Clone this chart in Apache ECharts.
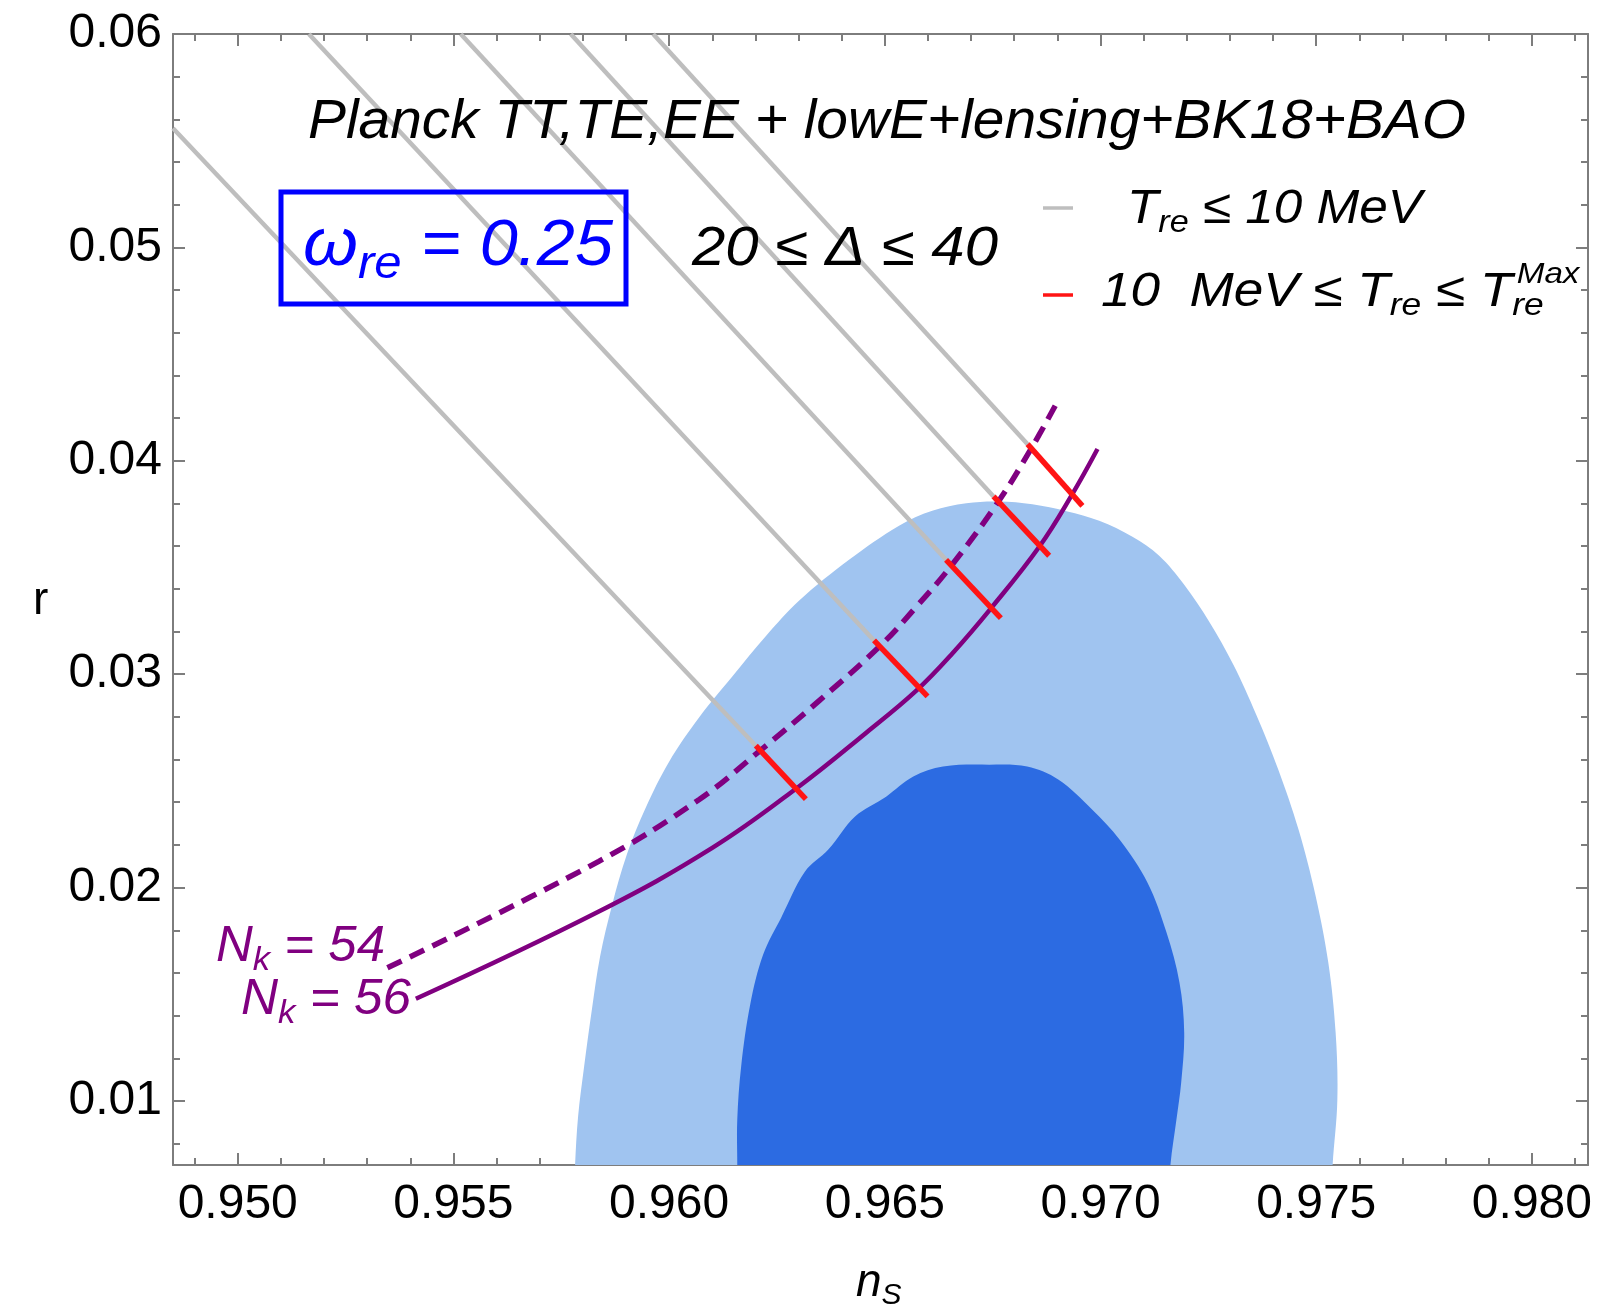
<!DOCTYPE html>
<html>
<head>
<meta charset="utf-8">
<script src="https://cdn.jsdelivr.net/npm/echarts@6/dist/echarts.min.js"></script>
<style>
  html, body { margin: 0; padding: 0; background: #ffffff; }
  #chart { width: 1599px; height: 1310px; }
</style>
</head>
<body>
<div id="chart"></div>
<script>
const FONT = '"Liberation Sans", Arial, Helvetica, sans-serif';

// ---- axes ----
const nsRange = [0.9485, 0.9813];
const rRange = [0.007, 0.06];
const nsMajor = [0.950, 0.955, 0.960, 0.965, 0.970, 0.975, 0.980];
const nsMinor = [0.949, 0.951, 0.952, 0.953, 0.954, 0.956, 0.957, 0.958, 0.959,
                 0.961, 0.962, 0.963, 0.964, 0.966, 0.967, 0.968, 0.969,
                 0.971, 0.972, 0.973, 0.974, 0.976, 0.977, 0.978, 0.979, 0.981];
const rMajor = [0.01, 0.02, 0.03, 0.04, 0.05, 0.06];
const rMinor = [0.008, 0.012, 0.014, 0.016, 0.018, 0.022, 0.024, 0.026, 0.028,
                0.032, 0.034, 0.036, 0.038, 0.042, 0.044, 0.046, 0.048,
                0.052, 0.054, 0.056, 0.058];

// ---- Planck TT,TE,EE + lowE + lensing + BK18 + BAO contours (outer and inner) ----
const outerNs = [0.95777, 0.95782, 0.95789, 0.95803, 0.95821, 0.95840, 0.95868, 0.95902,
                 0.95946, 0.96000, 0.96069, 0.96146, 0.96225, 0.96301, 0.96417, 0.96533,
                 0.96610, 0.96689, 0.96765, 0.96842, 0.96921, 0.96997, 0.97074, 0.97136,
                 0.97194, 0.97252, 0.97308, 0.97361, 0.97412, 0.97459, 0.97498, 0.97528,
                 0.97545, 0.97549, 0.97538, 0.97531];
const outerR  = [0.00398, 0.00698, 0.00927, 0.01162, 0.01429, 0.01677, 0.01920, 0.02155,
                 0.02375, 0.02590, 0.02796, 0.02988, 0.03180, 0.03344, 0.03536, 0.03696,
                 0.03766, 0.03801, 0.03809, 0.03796, 0.03764, 0.03719, 0.03644, 0.03555,
                 0.03419, 0.03246, 0.03044, 0.02810, 0.02553, 0.02272, 0.01967, 0.01649,
                 0.01321, 0.01007, 0.00698, 0.00398];
const innerNs = [0.96158, 0.96158, 0.96158, 0.96167, 0.96188, 0.96218, 0.96260, 0.96315,
                 0.96369, 0.96431, 0.96503, 0.96566, 0.96635, 0.96742, 0.96830, 0.96902,
                 0.96981, 0.97044, 0.97109, 0.97153, 0.97183, 0.97194, 0.97187, 0.97176,
                 0.97162, 0.97153];
const innerR  = [0.00398, 0.00698, 0.00913, 0.01162, 0.01452, 0.01686, 0.01860, 0.02075,
                 0.02178, 0.02333, 0.02426, 0.02520, 0.02567, 0.02576, 0.02567, 0.02506,
                 0.02365, 0.02225, 0.02023, 0.01789, 0.01555, 0.01321, 0.01087, 0.00913,
                 0.00698, 0.00398];

// ---- N_k = 54 (dashed) and N_k = 56 (solid) ----
const nk54Ns = [0.95347, 0.95837, 0.96069, 0.96211, 0.96348, 0.96492, 0.96573, 0.96654,
                0.96763, 0.96839, 0.96895];
const nk54R  = [0.01624, 0.02123, 0.02412, 0.02642, 0.02876, 0.03138, 0.03316, 0.03508,
                0.03808, 0.04056, 0.04258];
const nk56Ns = [0.95413, 0.95837, 0.96100, 0.96301, 0.96457, 0.96573, 0.96656, 0.96747,
                0.96858, 0.96935, 0.96993];
const nk56R  = [0.01479, 0.01888, 0.02186, 0.02474, 0.02726, 0.02923, 0.03096, 0.03311,
                0.03597, 0.03845, 0.04055];

// ---- reheating tracks, one per Delta: T_re <= 10 MeV (gray), then up to T_re^Max (red) ----
const trackStartNs = [0.9485, 0.95165, 0.95517, 0.95772, 0.95963];
const trackStartR  = [0.05558, 0.06, 0.06, 0.06, 0.06];
const tenMeVNs     = [0.96201, 0.96475, 0.96642, 0.96752, 0.96831];
const tenMeVR      = [0.02665, 0.03158, 0.03536, 0.03833, 0.04078];
const tMaxNs       = [0.96317, 0.96599, 0.96769, 0.96881, 0.96958];
const tMaxR        = [0.02415, 0.02896, 0.03263, 0.03555, 0.03789];

const AXIS_GRAY = '#7d7d7d';
const LIGHT_BLUE = '#a0c4f0';
const DARK_BLUE = '#2c6be2';
const PURPLE = '#800080';
const RED = '#ff1414';
const TRACK_GRAY = '#bebebe';

const zip = (xs, ys) => xs.map((x, i) => [x, ys[i]]);

function contourSeries(xs, ys, color, z) {
  return {
    type: 'custom',
    coordinateSystem: 'cartesian2d',
    xAxisIndex: 0, yAxisIndex: 0,
    clip: true,
    silent: true,
    z: z,
    data: zip(xs, ys),
    renderItem: function (params, api) {
      if (params.dataIndex !== 0) return null;
      const pts = xs.map((x, i) => api.coord([x, ys[i]]));
      return {
        type: 'polygon',
        shape: { points: pts, smooth: 0.35 },
        style: { fill: color, stroke: null }
      };
    }
  };
}

function lineSeries(data, color, width, type, z, smooth) {
  return {
    type: 'line',
    xAxisIndex: 0, yAxisIndex: 0,
    data: data,
    symbol: 'none',
    showSymbol: false,
    smooth: smooth || false,
    clip: true,
    silent: true,
    z: z,
    lineStyle: { color: color, width: width, type: type || 'solid', cap: 'butt' }
  };
}

const series = [];
series.push(contourSeries(outerNs, outerR, LIGHT_BLUE, 1));
series.push(contourSeries(innerNs, innerR, DARK_BLUE, 2));
trackStartNs.forEach((x, i) => {
  series.push(lineSeries([[x, trackStartR[i]], [tenMeVNs[i], tenMeVR[i]]], TRACK_GRAY, 4.5, 'solid', 3));
});
series.push(lineSeries(zip(nk54Ns, nk54R), PURPLE, 5.5, [16, 9], 4, 0.4));
series.push(lineSeries(zip(nk56Ns, nk56R), PURPLE, 4.5, 'solid', 4, 0.4));
tenMeVNs.forEach((x, i) => {
  series.push(lineSeries([[x, tenMeVR[i]], [tMaxNs[i], tMaxR[i]]], RED, 5.5, 'solid', 5));
});

// ---- axes: major + minor ticks on all four sides, pointing inward ----
function xAxisDef(position, ticks, len, withLine, withLabels) {
  return {
    type: 'value', gridIndex: 0, position: position,
    min: nsRange[0], max: nsRange[1],
    axisLine: { show: withLine, onZero: false, lineStyle: { color: AXIS_GRAY, width: 2 } },
    axisTick: { show: true, inside: true, length: len, customValues: ticks,
                lineStyle: { color: AXIS_GRAY, width: 2 } },
    axisLabel: withLabels ? {
      show: true, customValues: ticks, formatter: v => v.toFixed(3),
      fontSize: 48, fontFamily: FONT, color: '#000', margin: 16
    } : { show: false },
    splitLine: { show: false }
  };
}
function yAxisDef(position, ticks, len, withLine, withLabels) {
  return {
    type: 'value', gridIndex: 0, position: position,
    min: rRange[0], max: rRange[1],
    axisLine: { show: withLine, onZero: false, lineStyle: { color: AXIS_GRAY, width: 2 } },
    axisTick: { show: true, inside: true, length: len, customValues: ticks,
                lineStyle: { color: AXIS_GRAY, width: 2 } },
    axisLabel: withLabels ? {
      show: true, customValues: ticks, formatter: v => v.toFixed(2),
      fontSize: 48, fontFamily: FONT, color: '#000', margin: 11
    } : { show: false },
    splitLine: { show: false }
  };
}

// ---- text runs with sub/superscripts ----
const measureCtx = document.createElement('canvas').getContext('2d');
function fontOf(size, italic) { return (italic ? 'italic ' : '') + size + 'px ' + FONT; }
function textRun(pieces, left, midY, opt) {
  let pen = 0, prevStart = 0;
  const placed = [];
  pieces.forEach(p => {
    measureCtx.font = fontOf(p.s, opt.italic);
    const w = measureCtx.measureText(p.t).width;
    const x = p.under ? prevStart : pen;
    placed.push({ p: p, x: x });
    pen = Math.max(pen, x + w);
    prevStart = x;
  });
  const sx = opt.width ? opt.width / pen : 1;
  return placed.map(({ p, x }) => ({
    type: 'text',
    x: left + (x + (p.dx || 0)) * sx,
    y: midY + (p.dy || 0),
    scaleX: sx, scaleY: 1,
    silent: true, z: 100,
    style: {
      text: p.t, x: 0, y: 0,
      font: fontOf(p.s, opt.italic),
      fill: opt.color,
      textAlign: 'left', textVerticalAlign: 'middle',
      align: 'left', verticalAlign: 'middle'
    }
  }));
}

const graphics = [].concat(
  textRun([{ t: 'Planck TT,TE,EE + lowE+lensing+BK18+BAO', s: 56 }],
          308, 122, { italic: true, color: '#000', width: 1158 }),
  textRun([{ t: 'ω', s: 66 }, { t: 're', s: 46, dy: 18 }, { t: ' = 0.25', s: 64 }],
          303, 247, { italic: true, color: '#0000ff', width: 310 }),
  textRun([{ t: '20 ≤ Δ ≤ 40', s: 55 }],
          692, 250, { italic: true, color: '#000', width: 306 }),
  textRun([{ t: 'T', s: 48 }, { t: 're', s: 32, dy: 13 }, { t: ' ≤ 10 MeV', s: 48 }],
          1127, 210, { italic: true, color: '#000', width: 295 }),
  textRun([{ t: '10  MeV ≤ T', s: 48 }, { t: 're', s: 32, dy: 13 }, { t: ' ≤ T', s: 48 },
           { t: 'Max', s: 30, dy: -18, dx: 4 }, { t: 're', s: 32, dy: 13, under: true }],
          1101, 293, { italic: true, color: '#000', width: 474 }),
  textRun([{ t: 'N', s: 50 }, { t: 'k', s: 34, dy: 14 }, { t: ' = 54', s: 50 }],
          216, 947, { italic: true, color: PURPLE, width: 169 }),
  textRun([{ t: 'N', s: 50 }, { t: 'k', s: 34, dy: 14 }, { t: ' = 56', s: 50 }],
          241, 1000, { italic: true, color: PURPLE, width: 170 }),
  textRun([{ t: 'r', s: 46 }], 33, 601, { italic: false, color: '#000' }),
  textRun([{ t: 'n', s: 46 }, { t: 'S', s: 30, dy: 13 }], 856, 1283, { italic: true, color: '#000' }),
  [
    { type: 'rect', silent: true, z: 100,
      shape: { x: 281, y: 192, width: 345, height: 112 },
      style: { fill: 'none', stroke: '#0000ff', lineWidth: 5 } },
    { type: 'line', silent: true, z: 100,
      shape: { x1: 1043, y1: 208, x2: 1073, y2: 208 },
      style: { stroke: TRACK_GRAY, lineWidth: 3.5 } },
    { type: 'line', silent: true, z: 100,
      shape: { x1: 1043, y1: 295, x2: 1073, y2: 295 },
      style: { stroke: RED, lineWidth: 3.5 } }
  ]
);

const chart = echarts.init(document.getElementById('chart'), null, { renderer: 'canvas' });
chart.setOption({
  backgroundColor: '#ffffff',
  animation: false,
  grid: { left: 173, top: 34, right: 11, bottom: 145, containLabel: false, outerBoundsMode: 'none' },
  xAxis: [
    xAxisDef('bottom', nsMajor, 12, true, true),
    xAxisDef('bottom', nsMinor, 7, false, false),
    xAxisDef('top', nsMajor, 12, true, false),
    xAxisDef('top', nsMinor, 7, false, false)
  ],
  yAxis: [
    yAxisDef('left', rMajor, 12, true, true),
    yAxisDef('left', rMinor, 7, false, false),
    yAxisDef('right', rMajor, 12, true, false),
    yAxisDef('right', rMinor, 7, false, false)
  ],
  series: series,
  graphic: { elements: graphics }
});
</script>
</body>
</html>
